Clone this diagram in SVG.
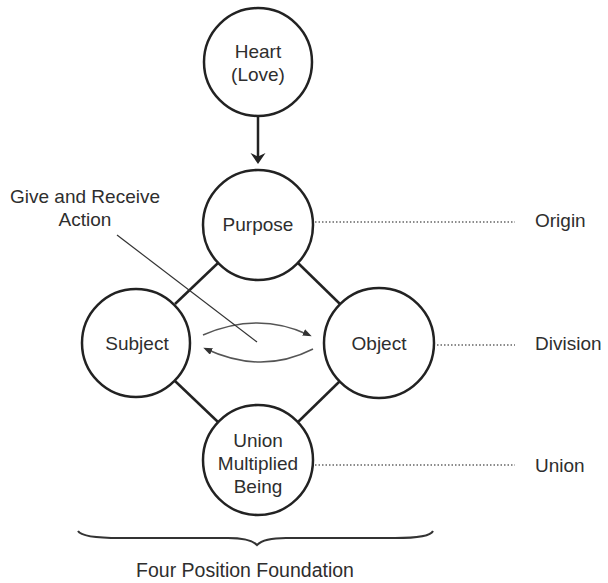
<svg xmlns="http://www.w3.org/2000/svg" width="608" height="583" viewBox="0 0 608 583">
  <style>
    .node { fill: #ffffff; stroke: #222222; stroke-width: 2.5; }
    .lbl { font-family: "Liberation Sans", Arial, sans-serif; font-size: 19px; fill: #2e2e2e; text-anchor: middle; }
    .side { font-family: "Liberation Sans", Arial, sans-serif; font-size: 19px; fill: #2e2e2e; }
    .edge { stroke: #222222; stroke-width: 2.5; fill: none; }
    .dot { stroke: #666666; stroke-width: 1.4; stroke-dasharray: 1.5 2; fill: none; }
    .gr { stroke: #555555; stroke-width: 1.5; fill: none; }
  </style>
  <defs>
    <marker id="bigArrow" markerUnits="userSpaceOnUse" markerWidth="12" markerHeight="16" refX="7" refY="7.5" orient="auto">
      <path d="M0,0 L11,7.5 L0,15 L3.5,7.5 z" fill="#222222"/>
    </marker>
    <marker id="smallArrow" markerUnits="userSpaceOnUse" markerWidth="10" markerHeight="8" refX="6" refY="3.5" orient="auto">
      <path d="M0,0 L9,3.5 L0,7 z" fill="#333333"/>
    </marker>
  </defs>
  <rect width="608" height="583" fill="#ffffff"/>

  <g id="connectors">
    <line class="edge" x1="258" y1="116" x2="258" y2="160" marker-end="url(#bigArrow)"/>
    <line class="edge" x1="218" y1="263" x2="175" y2="304"/>
    <line class="edge" x1="298" y1="263" x2="340" y2="304"/>
    <line class="edge" x1="175" y1="381" x2="218" y2="422"/>
    <line class="edge" x1="340" y1="381" x2="298" y2="422"/>
    <path class="gr" d="M203,335 Q258,311 309,335" marker-end="url(#smallArrow)"/>
    <path class="gr" d="M313,349 Q262,375 206,349" marker-end="url(#smallArrow)"/>
    <line x1="117" y1="235" x2="257" y2="342" stroke="#333333" stroke-width="1.2"/>
    <line class="dot" x1="315" y1="222" x2="515" y2="222"/>
    <line class="dot" x1="437" y1="345" x2="515" y2="345"/>
    <line class="dot" x1="315" y1="465" x2="515" y2="465"/>
    <path d="M78,531 Q82,538 120,538 L228,538 Q250,538 257,545 Q264,538 286,538 L395,538 Q430,538 433,531" stroke="#333333" stroke-width="2" fill="none"/>
  </g>

  <g id="heart">
    <circle class="node" cx="258" cy="62" r="54"/>
    <text class="lbl" x="258" y="58">Heart<tspan x="258" dy="22.5">(Love)</tspan></text>
  </g>
  <g id="purpose">
    <circle class="node" cx="258" cy="225" r="55"/>
    <text class="lbl" x="258" y="231">Purpose</text>
  </g>
  <g id="subject">
    <circle class="node" cx="136" cy="343" r="54"/>
    <text class="lbl" x="137" y="350">Subject</text>
  </g>
  <g id="object">
    <circle class="node" cx="379" cy="343" r="55"/>
    <text class="lbl" x="379" y="350">Object</text>
  </g>
  <g id="union">
    <circle class="node" cx="258" cy="460" r="55"/>
    <text class="lbl" x="258" y="447">Union<tspan x="258" dy="23">Multiplied</tspan><tspan x="258" dy="22.5">Being</tspan></text>
  </g>

  <g id="labels">
    <text class="lbl" x="85" y="203">Give and Receive<tspan x="85" dy="22.5">Action</tspan></text>
    <text class="side" x="535" y="227">Origin</text>
    <text class="side" x="535" y="350">Division</text>
    <text class="side" x="535" y="472">Union</text>
    <text class="lbl" x="245" y="577" style="font-size:19.5px">Four Position Foundation</text>
  </g>
</svg>
